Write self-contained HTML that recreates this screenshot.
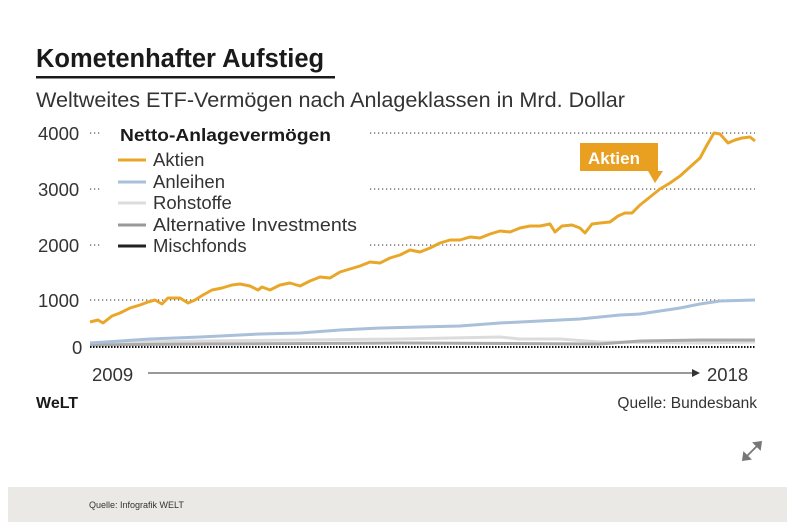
<!DOCTYPE html>
<html><head><meta charset="utf-8"><style>
body{margin:0;background:#fff;width:810px;height:527px;overflow:hidden;font-family:"Liberation Sans",sans-serif}
</style></head><body>
<svg width="810" height="527" xmlns="http://www.w3.org/2000/svg" font-family="Liberation Sans, sans-serif">
<text x="36" y="67" font-size="25.5" font-weight="bold" fill="#1a1a1a">Kometenhafter Aufstieg</text>
<rect x="36" y="76" width="299" height="2.5" fill="#1a1a1a"/>
<text x="36" y="107" font-size="21" fill="#333" textLength="589" lengthAdjust="spacingAndGlyphs">Weltweites ETF-Vermögen nach Anlageklassen in Mrd. Dollar</text>
<g font-size="18.5" fill="#333">
<text x="38" y="140">4000</text><text x="38" y="196">3000</text><text x="38" y="252">2000</text><text x="38" y="307">1000</text><text x="72" y="354">0</text>
</g>
<g stroke="#555" stroke-width="1.2" stroke-dasharray="1.2,2.8">
<line x1="90" y1="133" x2="100" y2="133"/><line x1="370" y1="133" x2="755" y2="133"/>
<line x1="90" y1="189" x2="100" y2="189"/><line x1="370" y1="189" x2="755" y2="189"/>
<line x1="90" y1="245" x2="100" y2="245"/><line x1="370" y1="245" x2="755" y2="245"/>
<line x1="90" y1="300" x2="755" y2="300"/>
</g>
<text x="120" y="141" font-size="17.5" font-weight="bold" fill="#1a1a1a" textLength="211" lengthAdjust="spacingAndGlyphs">Netto-Anlagevermögen</text>
<g stroke-width="3">
<line x1="118" y1="160" x2="146" y2="160" stroke="#e9a72a"/>
<line x1="118" y1="182" x2="146" y2="182" stroke="#a9c0da"/>
<line x1="118" y1="203" x2="146" y2="203" stroke="#dcdcdc"/>
<line x1="118" y1="225" x2="146" y2="225" stroke="#999"/>
<line x1="118" y1="246" x2="146" y2="246" stroke="#222"/>
</g>
<g font-size="18.5" fill="#333">
<text x="153" y="166">Aktien</text><text x="153" y="188">Anleihen</text><text x="153" y="209">Rohstoffe</text><text x="153" y="231" textLength="204" lengthAdjust="spacingAndGlyphs">Alternative Investments</text><text x="153" y="252">Mischfonds</text>
</g>
<g fill="none" stroke-linejoin="round">
<polyline stroke="#dcdcdc" stroke-width="3" points="90,343 200,341 300,340 400,339 500,337 520,339 560,339 600,342 700,343 755,342"/>
<polyline stroke="#aaa" stroke-width="3" points="90,345 200,344 400,343 600,344 640,341 700,340 755,340"/>
<polyline stroke="#a9c0da" stroke-width="3" points="90,343 150,339 200,337 260,334 300,333 340,330 380,328 420,327 460,326 500,323 540,321 580,319 620,315 640,314 680,308 700,304 720,301 755,300"/>
<polyline stroke="#e9a72a" stroke-width="3" points="90,322 98,320 103,323 112,316 120,313 130,308 140,305 148,302 155,300 162,304 168,298 180,298 188,303 195,300 203,295 212,290 222,288 232,285 240,284 250,286 258,290 262,287 270,290 280,285 290,283 300,286 310,281 320,277 330,278 340,272 350,269 360,266 370,262 380,263 390,258 400,255 410,250 420,252 430,248 440,243 450,240 460,240 470,237 480,238 490,234 500,231 510,232 520,228 530,226 540,226 550,224 555,232 562,226 572,225 580,228 585,233 592,224 600,223 610,222 618,216 625,213 632,213 640,205 650,197 660,189 670,183 680,176 690,167 700,158 707,145 714,133 720,134 728,143 735,140 742,138 750,137 755,141"/>
</g>
<line x1="90" y1="347" x2="755" y2="347" stroke="#111" stroke-width="2" stroke-dasharray="1.5,1.5"/>
<path d="M580,143 H658 V171 H663 L655,183 L648,171 H580 Z" fill="#e9a020"/>
<text x="588" y="164" font-size="17" font-weight="bold" fill="#fff">Aktien</text>
<text x="92" y="381" font-size="18.5" fill="#333">2009</text>
<line x1="148" y1="373" x2="692" y2="373" stroke="#333" stroke-width="1"/>
<path d="M692,369 L700,373 L692,377 Z" fill="#333"/>
<text x="707" y="381" font-size="18.5" fill="#333">2018</text>
<text x="36" y="408" font-size="16" font-weight="bold" fill="#1a1a1a">WeLT</text>
<text x="757" y="408" font-size="15.5" fill="#333" text-anchor="end">Quelle: Bundesbank</text>
<g stroke="#777" stroke-width="1.8" fill="#777">
<line x1="745" y1="458" x2="759" y2="444"/>
<path d="M761,442 L754,443 L760,449 Z"/><path d="M743,460 L744,453 L750,459 Z"/>
</g>
<rect x="8" y="487" width="779" height="35" fill="#ebe9e5"/>
<text x="89" y="508" font-size="9" fill="#333">Quelle: Infografik WELT</text>
</svg>
</body></html>
